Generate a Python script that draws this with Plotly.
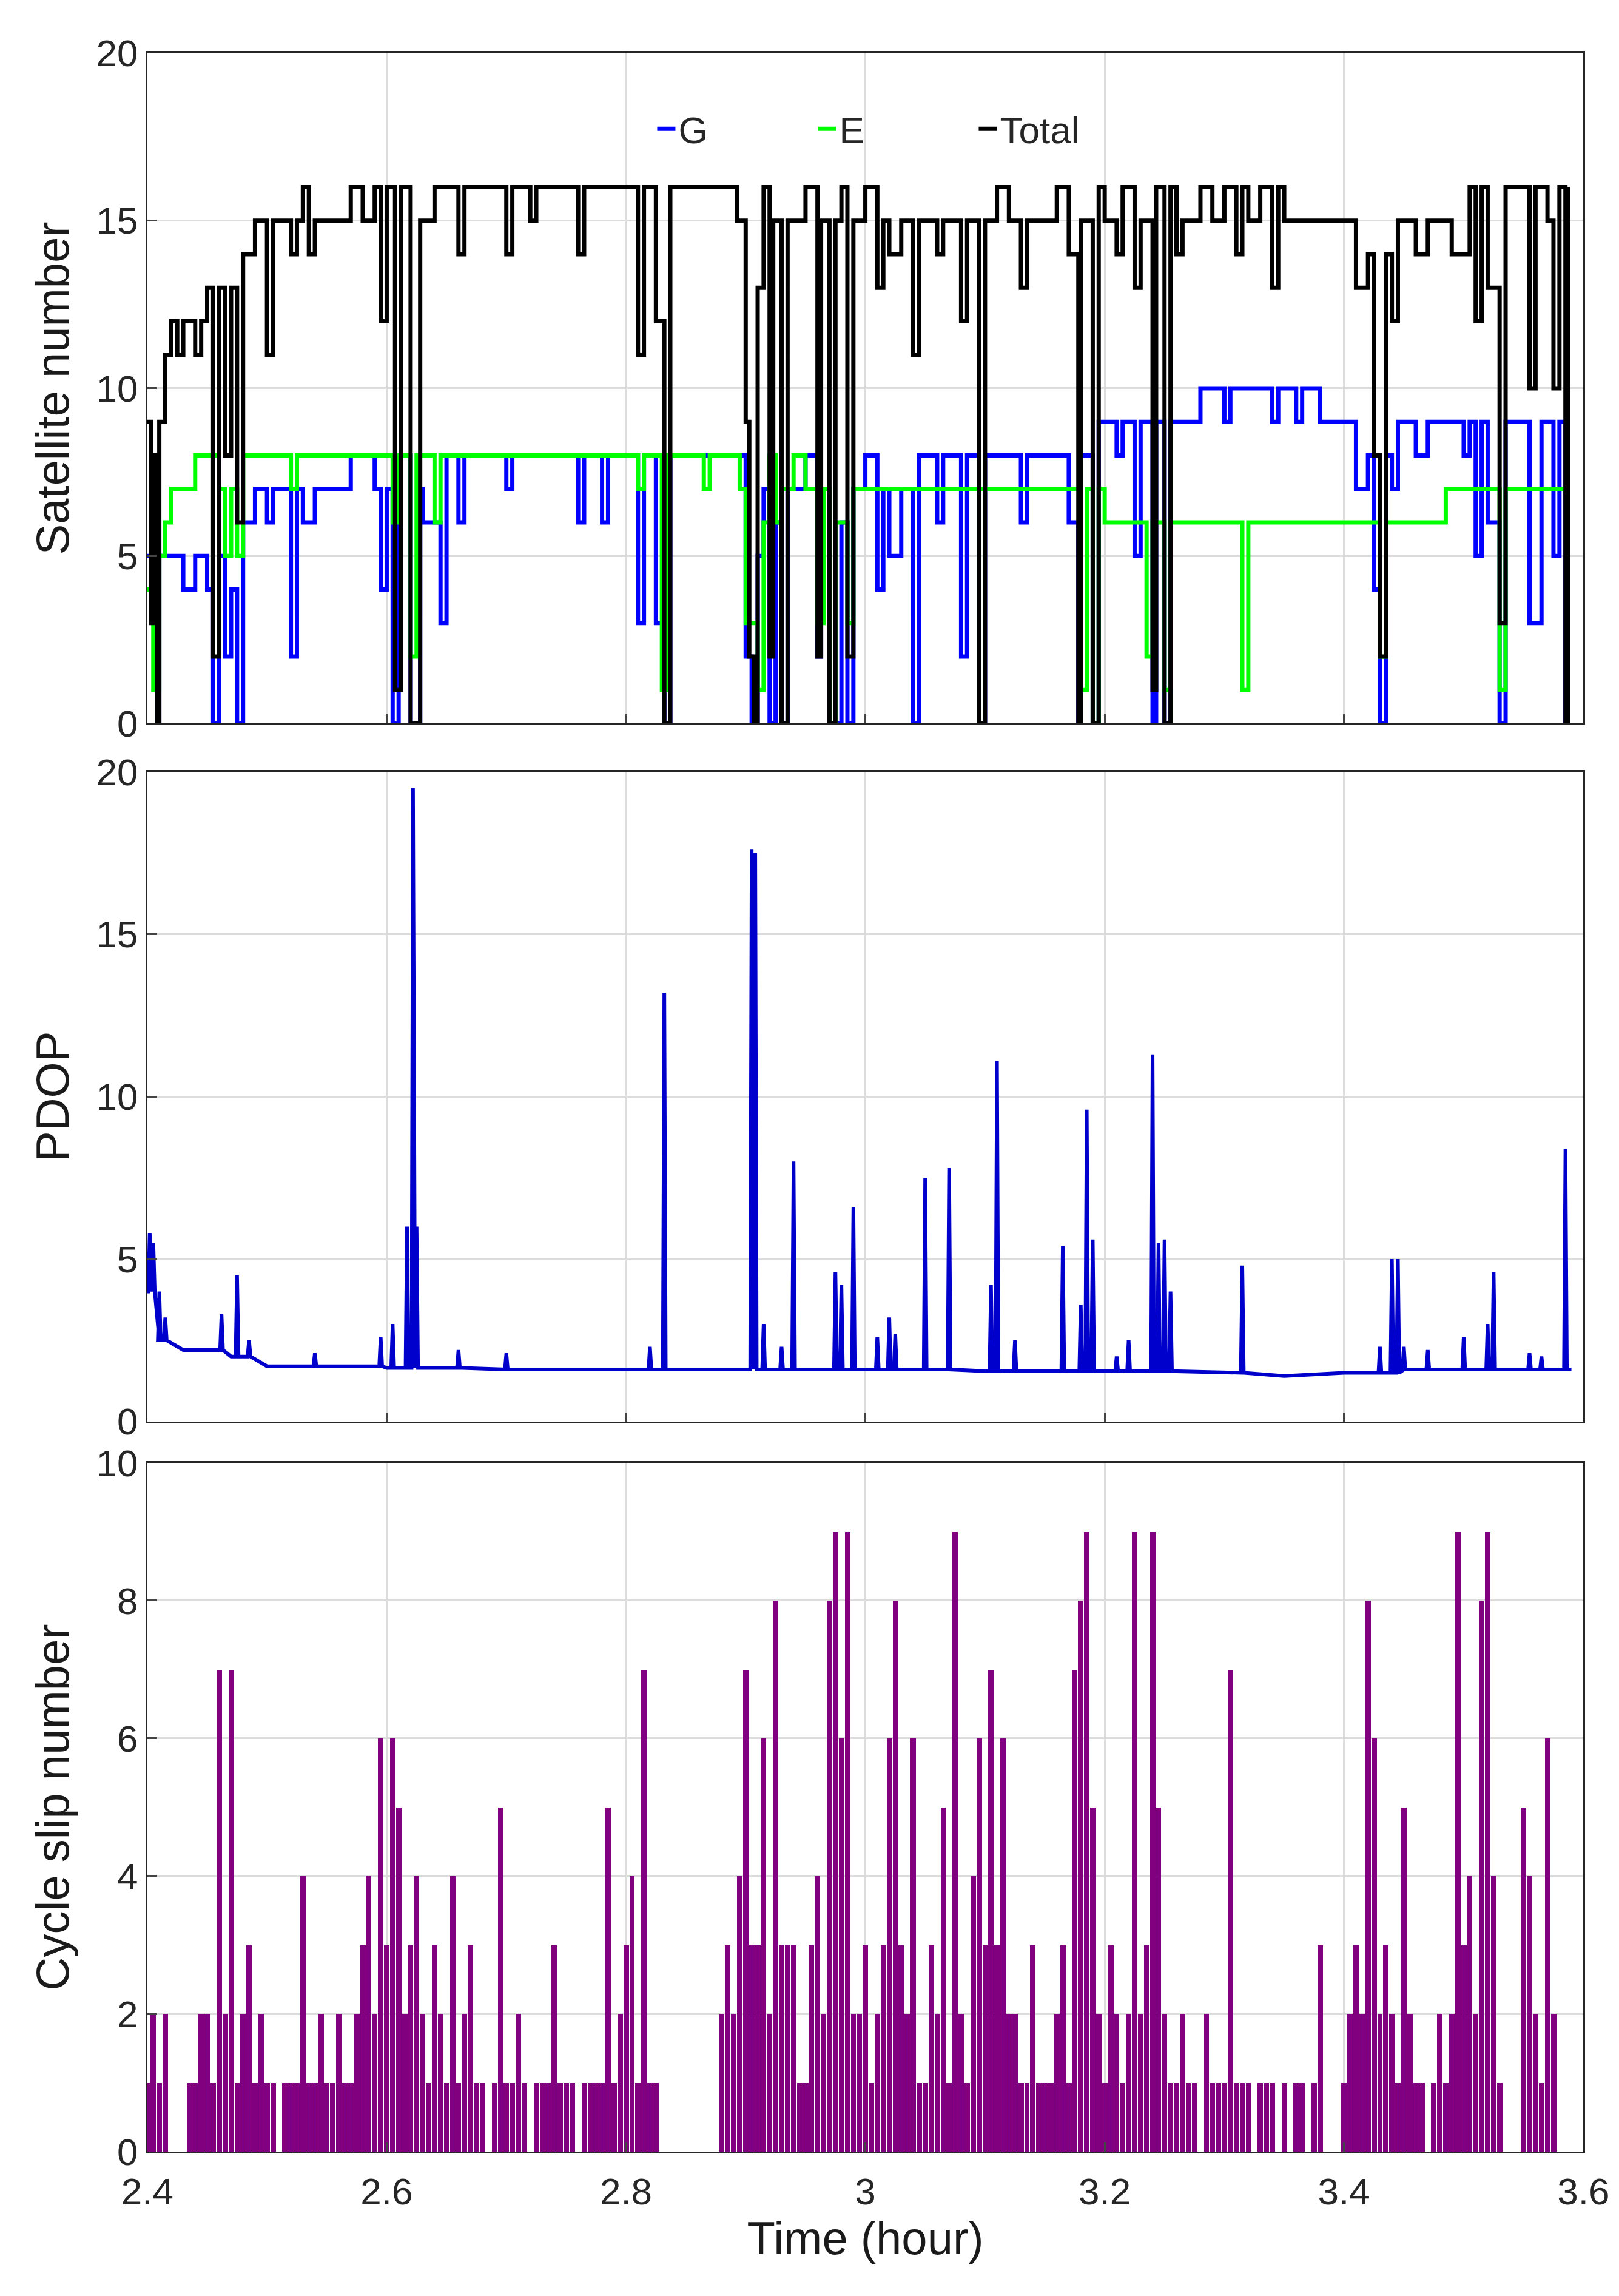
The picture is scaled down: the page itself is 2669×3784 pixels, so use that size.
import plotly.graph_objects as go

# ---------------- data ----------------
total_t = [2.400,2.403,2.405,2.408,2.41,2.415,2.42,2.425,2.43,2.44,2.445,2.45,2.455,2.46,2.465,2.47,2.475,2.48,2.49,2.50,2.505,2.52,2.525,2.53,2.535,2.54,2.56,2.57,2.58,2.59,2.595,2.60,2.607,2.612,2.62,2.628,2.64,2.66,2.665,2.68,2.70,2.705,2.72,2.725,2.75,2.76,2.765,2.80,2.81,2.815,2.825,2.832,2.837,2.85,2.88,2.89,2.893,2.90,2.903,2.907,2.91,2.915,2.92,2.923,2.93,2.935,2.95,2.96,2.963,2.97,2.975,2.98,2.985,2.99,3.00,3.01,3.015,3.02,3.03,3.04,3.045,3.05,3.06,3.065,3.07,3.08,3.085,3.095,3.10,3.11,3.12,3.13,3.135,3.15,3.16,3.17,3.178,3.18,3.19,3.195,3.20,3.21,3.215,3.225,3.23,3.24,3.243,3.25,3.255,3.26,3.265,3.275,3.28,3.29,3.30,3.31,3.315,3.32,3.33,3.34,3.345,3.35,3.40,3.41,3.42,3.425,3.43,3.435,3.44,3.445,3.46,3.47,3.48,3.49,3.50,3.505,3.51,3.515,3.52,3.53,3.535,3.55,3.555,3.56,3.57,3.575,3.58,3.585,3.587]
total_v = [9,3,8,0,9,11,12,11,12,11,12,13,2,13,8,13,6,14,15,11,15,14,15,16,14,15,15,16,15,16,12,16,1,16,0,15,16,14,16,16,14,16,15,16,16,14,16,16,11,16,12,0,16,16,16,16,15,9,2,0,13,16,2,15,0,15,16,2,15,0,15,16,2,15,16,13,15,14,15,11,15,15,14,15,15,12,15,0,15,16,15,13,15,15,16,14,0,15,0,16,15,14,16,13,15,1,16,0,16,14,15,15,16,15,16,14,16,15,16,13,16,15,15,13,14,8,2,14,12,15,14,15,15,14,14,16,12,16,13,3,16,16,10,16,15,10,16,0,16]

g_t = [2.40,2.405,2.408,2.41,2.43,2.44,2.45,2.455,2.46,2.465,2.47,2.475,2.48,2.49,2.50,2.505,2.52,2.525,2.53,2.54,2.56,2.57,2.59,2.595,2.60,2.605,2.61,2.62,2.628,2.63,2.645,2.65,2.66,2.665,2.70,2.705,2.75,2.76,2.765,2.78,2.785,2.81,2.815,2.825,2.832,2.837,2.88,2.89,2.90,2.905,2.91,2.915,2.92,2.925,2.93,2.935,2.95,2.96,2.963,2.97,2.98,2.985,2.99,3.00,3.01,3.015,3.02,3.03,3.04,3.045,3.06,3.065,3.08,3.085,3.095,3.10,3.13,3.135,3.15,3.17,3.178,3.18,3.19,3.195,3.21,3.215,3.225,3.23,3.24,3.243,3.25,3.255,3.27,3.28,3.30,3.305,3.34,3.345,3.35,3.36,3.365,3.38,3.40,3.41,3.42,3.425,3.43,3.435,3.44,3.445,3.46,3.47,3.49,3.50,3.505,3.51,3.515,3.52,3.53,3.535,3.55,3.555,3.565,3.575,3.58,3.585]
g_v = [5,4,0,5,4,5,4,0,5,2,4,0,6,7,6,7,2,7,6,7,7,8,7,4,7,0,8,0,7,6,3,8,6,8,7,8,8,6,8,6,8,3,8,3,0,8,8,8,2,0,5,7,0,6,0,7,8,2,7,0,6,0,7,8,4,7,5,7,0,8,6,8,2,8,0,8,6,8,8,6,0,8,0,9,8,9,5,9,0,9,0,9,9,10,9,10,9,10,10,9,10,9,9,7,8,4,0,8,7,9,8,9,9,8,9,5,9,6,0,9,9,3,9,5,9,0]

e_t = [2.40,2.405,2.41,2.415,2.42,2.43,2.44,2.46,2.465,2.47,2.475,2.48,2.50,2.52,2.525,2.60,2.605,2.61,2.62,2.625,2.64,2.645,2.80,2.81,2.815,2.83,2.835,2.86,2.865,2.87,2.89,2.895,2.90,2.91,2.915,2.92,2.925,2.93,2.94,2.95,2.96,2.965,2.97,2.975,2.985,2.99,3.00,3.10,3.17,3.18,3.185,3.19,3.195,3.20,3.235,3.24,3.25,3.255,3.26,3.315,3.32,3.43,3.435,3.47,3.485,3.53,3.535,3.585]
e_v = [4,1,5,6,7,7,8,7,5,7,5,8,8,7,8,8,6,8,2,8,6,8,8,7,8,1,8,8,7,8,8,7,3,1,6,8,6,7,8,7,3,7,0,6,3,7,7,7,7,1,7,0,7,6,2,6,1,6,6,1,6,2,6,6,7,1,7,7]

pdop_base_t = [2.40,2.41,2.43,2.47,2.50,2.55,2.60,2.70,2.80,2.90,3.00,3.10,3.20,3.30,3.35,3.40,3.45,3.50,3.59]
pdop_base_v = [4.0,2.5,2.2,2.0,1.7,1.7,1.65,1.6,1.6,1.6,1.6,1.55,1.55,1.5,1.4,1.5,1.6,1.6,1.6]
spike_t = [2.402,2.405,2.41,2.415,2.462,2.475,2.485,2.54,2.595,2.605,2.617,2.622,2.625,2.66,2.70,2.82,2.832,2.905,2.908,2.915,2.93,2.94,2.975,2.98,2.99,3.01,3.02,3.025,3.05,3.07,3.105,3.11,3.125,3.165,3.18,3.185,3.19,3.21,3.22,3.24,3.245,3.25,3.255,3.315,3.43,3.44,3.445,3.45,3.47,3.50,3.52,3.525,3.555,3.565,3.585]
spike_v = [5.8,5.5,4.0,3.2,3.3,4.5,2.5,2.1,2.6,3.0,6.0,19.5,6.0,2.2,2.1,2.3,13.2,17.6,17.5,3.0,2.3,8.0,4.6,4.2,6.6,2.6,3.2,2.7,7.5,7.8,4.2,11.1,2.5,5.4,3.6,9.6,5.6,2.0,2.5,11.3,5.5,5.6,4.0,4.8,2.3,5.0,5.0,2.3,2.2,2.6,3.0,4.6,2.1,2.0,8.4]

slip_t0 = 2.40
slip_dt = 0.005
slip_v = [1,2,1,2,0, 0,0,1,1,2, 2,1,7,2,7, 1,2,3,1,2, 1,1,0,1,1, 1,4,1,1,2, 1,1,2,1,1,
          2,3,4,2,6, 3,6,5,2,3, 4,2,1,3,2, 1,4,1,2,3, 1,1,0,1,5, 1,1,2,1,0, 1,1,1,3,1,
          1,1,0,1,1, 1,1,5,1,2, 3,4,1,7,1, 1,0,0,0,0, 0,0,0,0,0, 0,2,3,2,4, 7,3,3,6,2,
          8,3,3,3,1, 1,3,4,2,8, 9,6,9,2,2, 3,1,2,3,6, 8,3,2,6,1, 1,3,2,5,1, 9,2,1,4,6,
          3,7,3,6,2, 2,1,1,3,1, 1,1,2,3,1, 7,8,9,5,2, 1,3,2,1,2, 9,2,3,9,5, 2,1,1,2,1,
          1,0,2,1,1, 1,7,1,1,1, 0,1,1,1,0, 1,0,1,1,0, 1,3,0,0,0, 1,2,3,2,8, 6,2,3,2,1,
          5,2,1,1,0, 1,2,1,2,9, 3,4,2,8,9, 4,1,0,0,0, 5,4,2,1,6, 2]

# ---------------- build ----------------
def base_at(t):
    v = pdop_base_v[0]
    for bt, bv in zip(pdop_base_t, pdop_base_v):
        if bt <= t:
            v = bv
    return v

px, py = [], []
events = sorted([(t, -1.0) for t in pdop_base_t] + list(zip(spike_t, spike_v)))
for t, sv in events:
    b = base_at(t)
    if sv < 0:
        px.append(t); py.append(b)
    else:
        px += [t - 0.0012, t, t + 0.0012]; py += [b, sv, b]

slip_x = [slip_t0 + i * slip_dt for i in range(len(slip_v))]

fig = go.Figure()
lw = 7
fig.add_trace(go.Scatter(x=g_t, y=g_v, mode="lines", line=dict(color="#0000ff", width=lw, shape="hv"), name="G", xaxis="x", yaxis="y"))
fig.add_trace(go.Scatter(x=e_t, y=e_v, mode="lines", line=dict(color="#00ff00", width=lw, shape="hv"), name="E", xaxis="x", yaxis="y"))
fig.add_trace(go.Scatter(x=total_t, y=total_v, mode="lines", line=dict(color="#000000", width=lw, shape="hv"), name="Total", xaxis="x", yaxis="y"))
fig.add_trace(go.Scatter(x=px, y=py, mode="lines", line=dict(color="#0000cc", width=6), showlegend=False, xaxis="x2", yaxis="y2"))
fig.add_trace(go.Bar(x=slip_x, y=slip_v, width=0.0045, marker=dict(color="#800080", line=dict(width=0)), showlegend=False, xaxis="x3", yaxis="y3"))

font = dict(family="Liberation Sans, Arial", size=62, color="#262626")
tfont = dict(size=76, family="Liberation Sans, Arial", color="#1a1a1a")
ax = dict(range=[2.4, 3.6], dtick=0.2, showgrid=True, gridcolor="#dcdcdc", gridwidth=3,
          showline=True, linecolor="#262626", linewidth=3, mirror=True, ticks="inside",
          ticklen=15, tickwidth=3, zeroline=False, tickfont=font, automargin=False)
xd = [0.088, 0.975]
fig.update_layout(
    width=2669, height=3784, margin=dict(l=0, r=0, t=0, b=0),
    plot_bgcolor="white", paper_bgcolor="white", bargap=0,
    font=font,
    xaxis=dict(ax, domain=xd, anchor="y", showticklabels=False),
    xaxis2=dict(ax, domain=xd, anchor="y2", showticklabels=False),
    xaxis3=dict(ax, domain=xd, anchor="y3", tickvals=[2.4,2.6,2.8,3.0,3.2,3.4,3.6], ticktext=["2.4","2.6","2.8","3","3.2","3.4","3.6"],
                ticklabelstandoff=10, title=dict(text="Time (hour)", font=tfont, standoff=15)),
    yaxis=dict(ax, domain=[0.687, 0.979], range=[0, 20], dtick=5, anchor="x",
               title=dict(text="Satellite number", font=tfont, standoff=20)),
    yaxis2=dict(ax, domain=[0.383, 0.666], range=[0, 20], dtick=5, anchor="x2",
                title=dict(text="PDOP", font=tfont, standoff=20)),
    yaxis3=dict(ax, domain=[0.065, 0.365], range=[0, 10], dtick=2, anchor="x3",
                title=dict(text="Cycle slip number", font=tfont, standoff=20)),
    legend=dict(orientation="h", x=0.55, y=0.946, xanchor="center", yanchor="middle",
                bgcolor="rgba(255,255,255,0)", font=font, entrywidth=220),
)
fig.write_html("out.html")
